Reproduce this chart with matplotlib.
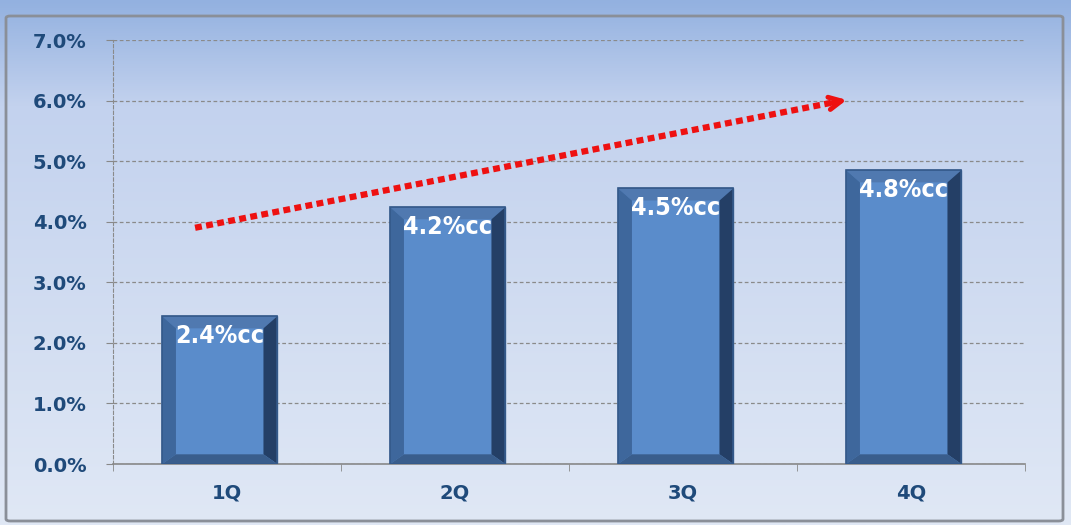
import matplotlib
matplotlib.use("Agg")
import matplotlib.pyplot as plt
import numpy as np
from matplotlib.patches import Polygon, FancyBboxPatch

categories = ["1Q", "2Q", "3Q", "4Q"]
values = [2.44, 4.24, 4.55, 4.85]
labels = ["2.4%cc", "4.2%cc", "4.5%cc", "4.8%cc"]
yticks = [0, 1, 2, 3, 4, 5, 6, 7]
arrow_start = (-0.14, 3.9)
arrow_end = (2.73, 6.02)

W, H = 1071, 525
fig = plt.figure(figsize=(W / 100, H / 100), dpi=100)

# background gradient
bg = fig.add_axes([0, 0, 1, 1])
bg.set_axis_off()
t = np.linspace(0, 1, 256)[:, None]
c_top = np.array([0x93, 0xb1, 0xe0]) / 255
c_mid = np.array([0xc3, 0xd2, 0xee]) / 255
c_bot = np.array([0xe0, 0xe8, 0xf5]) / 255
img = np.where(t < 0.2, c_top + (c_mid - c_top) * (t / 0.2),
               c_mid + (c_bot - c_mid) * ((t - 0.2) / 0.8))
img = img.reshape(256, 1, 3)
bg.imshow(img, aspect="auto", extent=[0, 1, 0, 1], origin="upper")
bg.set_xlim(0, 1)
bg.set_ylim(0, 1)
frame = FancyBboxPatch((6 / W, 4 / H), (W - 14) / W, (H - 20) / H,
                       boxstyle="round,pad=0,rounding_size=0.004",
                       fill=False, edgecolor="#8a8f98", linewidth=2.0,
                       transform=bg.transAxes)
bg.add_patch(frame)

ax = fig.add_axes([113 / W, (H - 464) / H, (1025 - 113) / W, (464 - 40) / H])
ax.patch.set_alpha(0)
ax.set_xlim(-0.5, len(categories) - 0.5)
ax.set_ylim(0, 7)

x = np.arange(len(categories))
bar_shift = -0.032
bw = 0.505
bars = ax.bar(x + bar_shift, values, width=bw, color="#5a8ccb", edgecolor="#3c6494",
              linewidth=1.0, zorder=3)

# bevel decoration computed from each bar's geometry
for b in bars:
    x0, y0 = b.get_x(), b.get_y()
    w, h = b.get_width(), b.get_height()
    bx = w * 0.12
    by = 0.2
    byb = 0.16
    x1 = x0 + w
    y1 = y0 + h
    ax.add_patch(Polygon([(x0, y1), (x1, y1), (x1 - bx, y1 - by), (x0 + bx, y1 - by)],
                         closed=True, color="#5079b0", zorder=4, lw=0))
    ax.add_patch(Polygon([(x0, y0), (x0, y1), (x0 + bx, y1 - by), (x0 + bx, y0 + byb)],
                         closed=True, color="#3e679c", zorder=4, lw=0))
    ax.add_patch(Polygon([(x1, y0), (x1, y1), (x1 - bx, y1 - by), (x1 - bx, y0 + byb)],
                         closed=True, color="#243f66", zorder=4, lw=0))
    ax.add_patch(Polygon([(x0, y0), (x1, y0), (x1 - bx, y0 + byb), (x0 + bx, y0 + byb)],
                         closed=True, color="#395d8c", zorder=4, lw=0))
    ax.add_patch(Polygon([(x0, y0), (x1, y0), (x1, y1), (x0, y1)], closed=True,
                         fill=False, edgecolor="#34598a", lw=1.2, zorder=5))

for xi, v, lab in zip(x + bar_shift, values, labels):
    ax.text(xi, v - 0.33, lab, ha="center", va="center", color="white",
            fontsize=18, fontweight="bold", fontstretch="condensed",
            family=["DejaVu Sans"], zorder=6)

ax.set_yticks(yticks)
ax.set_yticklabels([f"{v:.1f}%" for v in yticks])
ax.set_xticks(x)
ax.set_xticklabels(categories)
ax.set_xticks(np.arange(len(categories) + 1) - 0.5, minor=True)
ax.tick_params(axis="x", which="major", length=0, pad=14)
ax.tick_params(axis="x", which="minor", length=5, color="#888888", direction="out")
ax.tick_params(axis="y", length=5, color="#888888", pad=14)
for lab in ax.get_xticklabels() + ax.get_yticklabels():
    lab.set_color("#1f4a7a")
    lab.set_fontweight("bold")
    lab.set_fontsize(14)
    lab.set_family("DejaVu Sans")

ax.grid(axis="y", linestyle=(0, (3, 2)), color="#8a8a8a", linewidth=0.9, zorder=0)
for s in ["top", "right"]:
    ax.spines[s].set_visible(False)
ax.spines["left"].set_linestyle((0, (3, 2)))
ax.spines["left"].set_color("#8a8a8a")
ax.spines["bottom"].set_color("#888888")
ax.spines["bottom"].set_linewidth(1.2)

ax.plot([arrow_start[0], arrow_end[0] - 0.05], [arrow_start[1], arrow_end[1] - 0.035],
        color="#ee1111", lw=4.5, linestyle=(0, (1.1, 0.7)),
        dash_capstyle="butt", zorder=7)
ax.annotate("", xy=arrow_end, xytext=(arrow_end[0] - 0.1, arrow_end[1] - 0.074),
            arrowprops=dict(arrowstyle="->,head_length=0.9,head_width=0.45",
                            color="#ee1111", lw=3.5), zorder=7)

fig.savefig("out.png", dpi=100)
